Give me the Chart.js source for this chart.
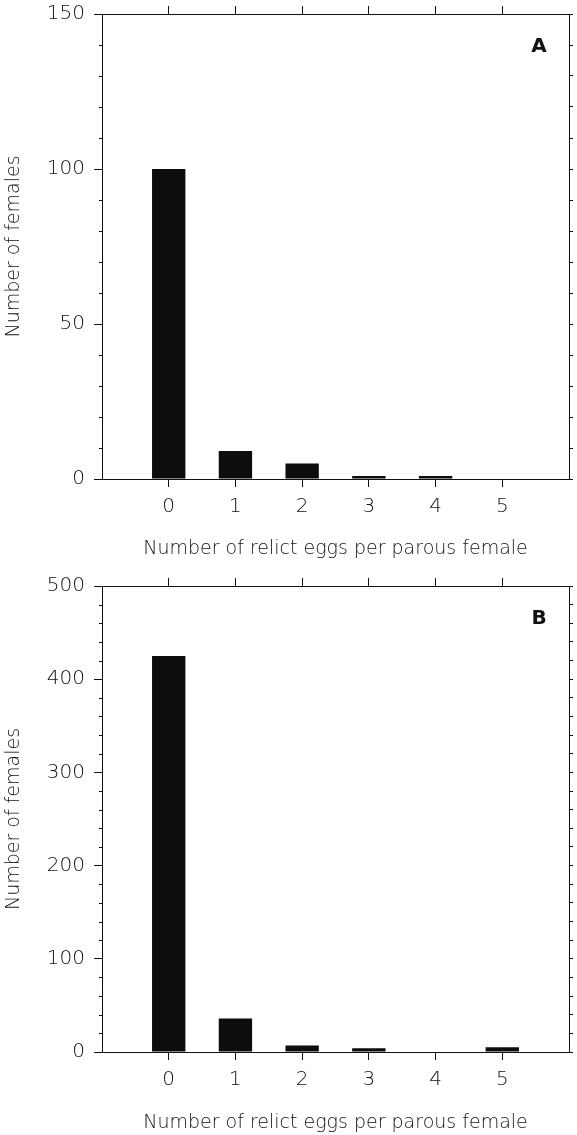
<!DOCTYPE html>
<html>
<head>
<meta charset="utf-8">
<script src="https://cdn.jsdelivr.net/npm/chart.js@4.4.1/dist/chart.umd.min.js"></script>
<style>
  html, body { margin: 0; padding: 0; background: #fff; overflow: hidden; }
  canvas { display: block; }
  #chartA { margin-top: -20px; }
</style>
</head>
<body>
<canvas id="chartA" width="577" height="580"></canvas>
<canvas id="chartB" width="577" height="575"></canvas>
<script>
// relict eggs per parous female (x) and how many females had that count
const eggCounts = [0, 1, 2, 3, 4, 5];
const femalesA = [100, 9, 5, 1, 1, 0];
const femalesB = [425, 36, 7, 4, 0, 5];
const xTitle = 'Number of relict eggs per parous female';
const yTitle = 'Number of females';

Chart.defaults.animation = false;
Chart.defaults.font.family = "'DejaVu Sans', sans-serif";

const ink = '#111';
const FONT = "'DejaVu Sans', sans-serif";
const shown = (v) => v >= 0 && v <= 5;

// minor ticks on the left axis + the panel letter
const frameExtras = {
  id: 'frameExtras',
  afterDraw(chart, args, opts) {
    const { ctx, chartArea: a, scales } = chart;
    const y = scales.y;
    ctx.save();
    ctx.strokeStyle = ink;
    ctx.lineWidth = 1;
    ctx.beginPath();
    for (let v = 0; v <= y.max; v += opts.minor) {
      if (v % opts.major === 0) continue;
      const py = Math.round(y.getPixelForValue(v)) + 0.5;
      ctx.moveTo(a.left - 3, py);
      ctx.lineTo(a.left, py);
    }
    ctx.stroke();
    ctx.font = `bold 20px ${FONT}`;
    ctx.fillStyle = ink;
    ctx.textAlign = 'center';
    ctx.textBaseline = 'middle';
    ctx.fillText(opts.label, a.right - 30, a.top + 33);
    ctx.restore();
  }
};

function panel(canvasId, values, label, yMax, major, minor, topH, bottomH, titlePad) {
  const tickFont = { family: FONT, size: 20, weight: 200 };
  const titleFont = { family: FONT, size: 19, weight: 200 };
  const hideEnds = (c) => (!c.tick || shown(c.tick.value)) ? ink : 'rgba(0,0,0,0)';

  return new Chart(document.getElementById(canvasId), {
    type: 'bar',
    data: {
      datasets: [{
        data: eggCounts.map((x, i) => ({ x, y: values[i] })),
        backgroundColor: '#0d0d0d',
        borderWidth: 0,
        barPercentage: 0.5,
        categoryPercentage: 1,
        xAxisID: 'x',
        yAxisID: 'y'
      }]
    },
    options: {
      responsive: false,
      devicePixelRatio: 1,
      layout: { padding: 0 },
      plugins: {
        legend: { display: false },
        tooltip: { enabled: false },
        frameExtras: { label, major, minor }
      },
      scales: {
        x: {
          type: 'linear', position: 'bottom', min: -1, max: 6, offset: false,
          afterFit: (s) => { s.height = bottomH; },
          border: { color: ink, width: 1 },
          grid: { offset: false, drawOnChartArea: false, tickLength: 8, tickColor: hideEnds },
          ticks: { stepSize: 1, padding: 8, font: tickFont, color: ink, callback: (v) => shown(v) ? v : '' },
          title: { display: true, text: xTitle, font: titleFont, color: ink, padding: { top: 0, bottom: titlePad } }
        },
        xTop: {
          type: 'linear', position: 'top', min: -1, max: 6, offset: false,
          afterFit: (s) => { s.height = topH; },
          border: { color: ink, width: 1 },
          grid: { offset: false, drawOnChartArea: false, tickLength: 8, tickColor: hideEnds },
          ticks: { stepSize: 1, display: false }
        },
        y: {
          position: 'left', min: 0, max: yMax,
          afterFit: (s) => { s.width = 102; },
          border: { color: ink, width: 1 },
          grid: { drawOnChartArea: false, tickLength: 8, tickColor: ink },
          ticks: { stepSize: major, padding: 9, font: tickFont, color: ink },
          title: { display: true, text: yTitle, font: titleFont, color: ink, padding: { top: 3, bottom: 0 } }
        },
        yRight: {
          position: 'right', min: 0, max: yMax,
          afterFit: (s) => { s.width = 4; },
          border: { color: ink, width: 1 },
          grid: { drawOnChartArea: false, tickLength: 4, tickColor: ink },
          ticks: { stepSize: minor, display: false }
        }
      }
    },
    plugins: [frameExtras]
  });
}

panel('chartA', femalesA, 'A', 150, 50, 10, 34, 81, 0);
panel('chartB', femalesB, 'B', 500, 100, 20, 26, 83, 1);
</script>
</body>
</html>
